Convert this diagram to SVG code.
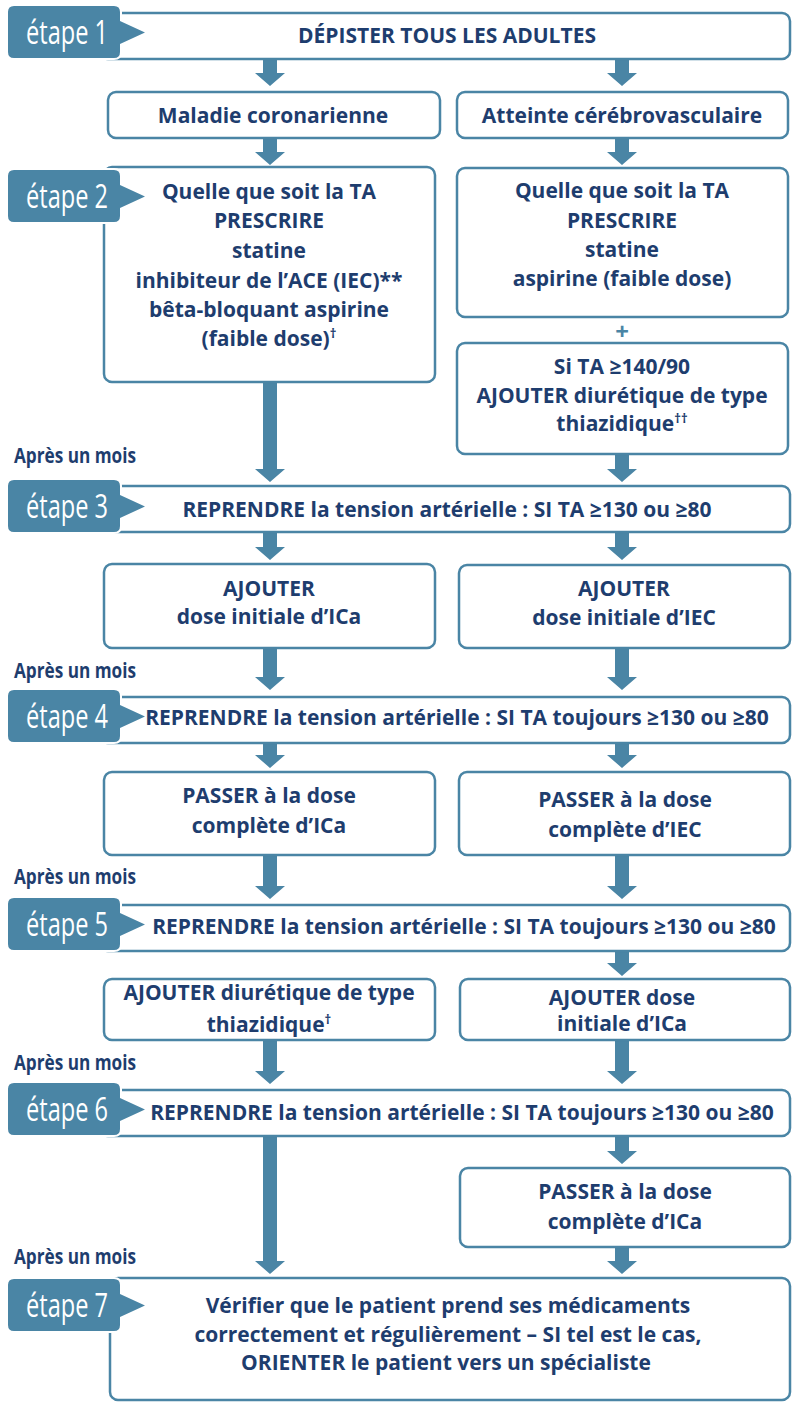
<svg xmlns="http://www.w3.org/2000/svg" xmlns:xlink="http://www.w3.org/1999/xlink" width="793" height="1405" viewBox="0 0 793 1405">
<style>
.bx{fill:#fff;stroke:#4a85a5;stroke-width:2.5}
.tab{fill:#4a85a5;stroke:#fff;stroke-width:4;paint-order:stroke}
.tt{font-family:"Open Sans",Lato,"Liberation Sans",sans-serif;font-size:32px;fill:#fff}
.t{font-family:"Open Sans","Liberation Sans",sans-serif;font-weight:bold;font-size:21px;fill:#1e3d6e;text-anchor:middle}
.am{font-family:"Open Sans","Liberation Sans",sans-serif;font-weight:bold;font-size:21px;fill:#1e3d6e}
.ar{fill:#4a85a5}
.sup{font-size:13px}
</style>
<defs>
<path id="tabp" class="tab" d="M14,0 H114 Q120,0 120,6 V15 L145,26.5 L120,38 V46 Q120,52 114,52 H14 Q8,52 8,46 V6 Q8,0 14,0 Z"/>
</defs>

<g id="connectors">
<polygon class="ar" points="263,59 277,59 277,73 285,73 270,86 255,73 263,73"/>
<polygon class="ar" points="615,59 629,59 629,73 637,73 622,86 607,73 615,73"/>
<polygon class="ar" points="263,138 277,138 277,152 285,152 270,165 255,152 263,152"/>
<polygon class="ar" points="615,138 629,138 629,152 637,152 622,165 607,152 615,152"/>
<polygon class="ar" points="263,382 277,382 277,469 285,469 270,482 255,469 263,469"/>
<polygon class="ar" points="615,454 629,454 629,469 637,469 622,482 607,469 615,469"/>
<polygon class="ar" points="263,532 277,532 277,547 285,547 270,560 255,547 263,547"/>
<polygon class="ar" points="615,532 629,532 629,547 637,547 622,560 607,547 615,547"/>
<polygon class="ar" points="263,648 277,648 277,677 285,677 270,690 255,677 263,677"/>
<polygon class="ar" points="615,648 629,648 629,677 637,677 622,690 607,677 615,677"/>
<polygon class="ar" points="263,743 277,743 277,755 285,755 270,768 255,755 263,755"/>
<polygon class="ar" points="615,743 629,743 629,755 637,755 622,768 607,755 615,755"/>
<polygon class="ar" points="263,855 277,855 277,886 285,886 270,899 255,886 263,886"/>
<polygon class="ar" points="615,855 629,855 629,886 637,886 622,899 607,886 615,886"/>
<polygon class="ar" points="615,951 629,951 629,963 637,963 622,976 607,963 615,963"/>
<polygon class="ar" points="263,1040 277,1040 277,1071 285,1071 270,1084 255,1071 263,1071"/>
<polygon class="ar" points="615,1040 629,1040 629,1071 637,1071 622,1084 607,1071 615,1071"/>
<polygon class="ar" points="263,1136 277,1136 277,1261 285,1261 270,1274 255,1261 263,1261"/>
<polygon class="ar" points="615,1136 629,1136 629,1151 637,1151 622,1164 607,1151 615,1151"/>
<polygon class="ar" points="615,1247 629,1247 629,1261 637,1261 622,1274 607,1261 615,1261"/>
</g>

<g id="etape1">
<rect class="bx" x="100" y="13" width="690" height="46" rx="8"/>
<use xlink:href="#tabp" href="#tabp" y="6"/>
<text class="tt" x="26" y="44" textLength="82" lengthAdjust="spacingAndGlyphs">étape 1</text>
<text class="t" x="447" y="43">DÉPISTER TOUS LES ADULTES</text>
</g>

<g id="maladie">
<rect class="bx" x="108" y="92" width="332" height="46" rx="8"/>
<text class="t" x="273" y="123">Maladie coronarienne</text>
</g>
<g id="atteinte">
<rect class="bx" x="457" y="92" width="331" height="46" rx="8"/>
<text class="t" x="622" y="123">Atteinte cérébrovasculaire</text>
</g>

<g id="etape2-left">
<rect class="bx" x="104" y="167" width="331" height="215" rx="8"/>
<use xlink:href="#tabp" href="#tabp" y="170"/>
<text class="tt" x="26" y="208" textLength="82" lengthAdjust="spacingAndGlyphs">étape 2</text>
<text class="t" x="269" y="199">Quelle que soit la TA</text>
<text class="t" x="269" y="228">PRESCRIRE</text>
<text class="t" x="269" y="258">statine</text>
<text class="t" x="269" y="288">inhibiteur de l’ACE (IEC)**</text>
<text class="t" x="269" y="317">bêta-bloquant aspirine</text>
<text class="t" x="269" y="346">(faible dose)<tspan class="sup" dy="-8">†</tspan></text>
</g>

<g id="etape2-right">
<rect class="bx" x="457" y="168" width="331" height="149" rx="8"/>
<text class="t" x="622" y="198">Quelle que soit la TA</text>
<text class="t" x="622" y="228">PRESCRIRE</text>
<text class="t" x="622" y="257">statine</text>
<text class="t" x="622" y="286">aspirine (faible dose)</text>
</g>
<g id="plus">
<text class="t" x="622" y="340" style="fill:#4a85a5;font-size:24px">+</text>
</g>
<g id="si-ta">
<rect class="bx" x="457" y="343" width="331" height="111" rx="8"/>
<text class="t" x="622" y="374">Si TA ≥140/90</text>
<text class="t" x="622" y="403">AJOUTER diurétique de type</text>
<text class="t" x="622" y="431">thiazidique<tspan class="sup" dy="-8">††</tspan></text>
</g>

<g id="apres1"><text class="am" x="14" y="463" textLength="122" lengthAdjust="spacingAndGlyphs">Après un mois</text></g>

<g id="etape3">
<rect class="bx" x="100" y="486" width="690" height="46" rx="8"/>
<use xlink:href="#tabp" href="#tabp" y="480"/>
<text class="tt" x="26" y="518" textLength="82" lengthAdjust="spacingAndGlyphs">étape 3</text>
<text class="t" x="447" y="517">REPRENDRE la tension artérielle : SI TA ≥130 ou ≥80</text>
</g>

<g id="ajouter-ica">
<rect class="bx" x="104" y="564" width="331" height="84" rx="8"/>
<text class="t" x="269" y="596">AJOUTER</text>
<text class="t" x="269" y="624">dose initiale d’ICa</text>
</g>
<g id="ajouter-iec">
<rect class="bx" x="459" y="565" width="331" height="83" rx="8"/>
<text class="t" x="624" y="596">AJOUTER</text>
<text class="t" x="624" y="625">dose initiale d’IEC</text>
</g>

<g id="apres2"><text class="am" x="14" y="678" textLength="122" lengthAdjust="spacingAndGlyphs">Après un mois</text></g>

<g id="etape4">
<rect class="bx" x="100" y="697" width="690" height="46" rx="8"/>
<use xlink:href="#tabp" href="#tabp" y="690"/>
<text class="tt" x="26" y="728" textLength="82" lengthAdjust="spacingAndGlyphs">étape 4</text>
<text class="t" x="457" y="725">REPRENDRE la tension artérielle : SI TA toujours ≥130 ou ≥80</text>
</g>

<g id="passer-ica">
<rect class="bx" x="104" y="772" width="331" height="83" rx="8"/>
<text class="t" x="269" y="803">PASSER à la dose</text>
<text class="t" x="269" y="833">complète d’ICa</text>
</g>
<g id="passer-iec">
<rect class="bx" x="459" y="772" width="331" height="83" rx="8"/>
<text class="t" x="625" y="807">PASSER à la dose</text>
<text class="t" x="625" y="837">complète d’IEC</text>
</g>

<g id="apres3"><text class="am" x="14" y="884" textLength="122" lengthAdjust="spacingAndGlyphs">Après un mois</text></g>

<g id="etape5">
<rect class="bx" x="100" y="905" width="690" height="46" rx="8"/>
<use xlink:href="#tabp" href="#tabp" y="898"/>
<text class="tt" x="26" y="936" textLength="82" lengthAdjust="spacingAndGlyphs">étape 5</text>
<text class="t" x="464" y="934">REPRENDRE la tension artérielle : SI TA toujours ≥130 ou ≥80</text>
</g>

<g id="ajouter-diuretique">
<rect class="bx" x="104" y="979" width="331" height="61" rx="8"/>
<text class="t" x="269" y="1000">AJOUTER diurétique de type</text>
<text class="t" x="269" y="1032">thiazidique<tspan class="sup" dy="-8">†</tspan></text>
</g>
<g id="ajouter-ica-2">
<rect class="bx" x="460" y="979" width="330" height="61" rx="8"/>
<text class="t" x="622" y="1005">AJOUTER dose</text>
<text class="t" x="622" y="1031">initiale d’ICa</text>
</g>

<g id="apres4"><text class="am" x="14" y="1070" textLength="122" lengthAdjust="spacingAndGlyphs">Après un mois</text></g>

<g id="etape6">
<rect class="bx" x="100" y="1090" width="690" height="46" rx="8"/>
<use xlink:href="#tabp" href="#tabp" y="1083"/>
<text class="tt" x="26" y="1121" textLength="82" lengthAdjust="spacingAndGlyphs">étape 6</text>
<text class="t" x="462" y="1120">REPRENDRE la tension artérielle : SI TA toujours ≥130 ou ≥80</text>
</g>

<g id="passer-ica-2">
<rect class="bx" x="460" y="1168" width="330" height="79" rx="8"/>
<text class="t" x="625" y="1199">PASSER à la dose</text>
<text class="t" x="625" y="1229">complète d’ICa</text>
</g>

<g id="apres5"><text class="am" x="14" y="1264" textLength="122" lengthAdjust="spacingAndGlyphs">Après un mois</text></g>

<g id="etape7">
<rect class="bx" x="110" y="1278" width="680" height="122" rx="8"/>
<use xlink:href="#tabp" href="#tabp" y="1279"/>
<text class="tt" x="26" y="1317" textLength="82" lengthAdjust="spacingAndGlyphs">étape 7</text>
<text class="t" x="448" y="1313">Vérifier que le patient prend ses médicaments</text>
<text class="t" x="448" y="1342">correctement et régulièrement – SI tel est le cas,</text>
<text class="t" x="446" y="1370">ORIENTER le patient vers un spécialiste</text>
</g>
</svg>
